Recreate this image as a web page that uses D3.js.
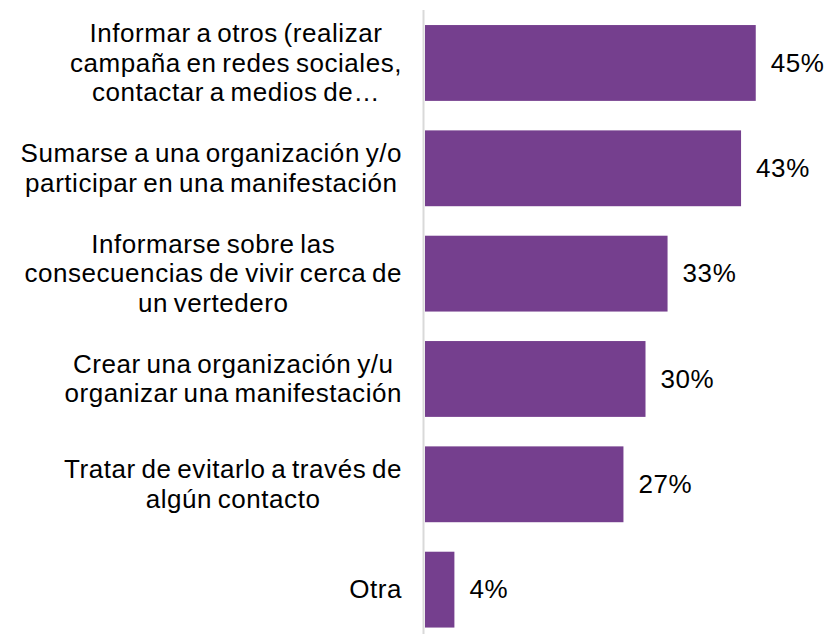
<!DOCTYPE html>
<html>
<head>
<meta charset="utf-8">
<script src="https://cdn.jsdelivr.net/npm/d3@7"></script>
<style>
  html, body { margin: 0; padding: 0; background: #ffffff; }
  svg { display: block; }
</style>
</head>
<body>
<svg id="chart" width="833" height="634"></svg>
<script>
// ---- data ----
const categories = [
  ["Informar a otros (realizar", "campaña en redes sociales,", "contactar a medios de…"],
  ["Sumarse a una organización y/o", "participar en una manifestación"],
  ["Informarse sobre las", "consecuencias de vivir cerca de", "un vertedero"],
  ["Crear una organización y/u", "organizar una manifestación"],
  ["Tratar de evitarlo a través de", "algún contacto"],
  ["Otra"]
];
const values = [45, 43, 33, 30, 27, 4];
const valueLabels = ["45%", "43%", "33%", "30%", "27%", "4%"];

// ---- layout ----
const W = 833, H = 634;
const axisX = 425;
const svg = d3.select("#chart");
const font = "'Liberation Sans', Arial, Helvetica, sans-serif";

const ids = categories.map((_, i) => i);
const y = d3.scaleBand().domain(ids).range([10.3, 642.3]).paddingInner(0.28).paddingOuter(0.14);
const x = d3.scaleLinear().domain([0, 50]).range([axisX, axisX + 367.5]);

// bars
svg.append("g").selectAll("rect").data(values).join("rect")
  .attr("x", x(0))
  .attr("y", (d, i) => y(i))
  .attr("width", d => x(d) - x(0))
  .attr("height", y.bandwidth())
  .attr("fill", "#753f8e");

// vertical axis line
svg.append("line")
  .attr("x1", axisX - 1.5).attr("x2", axisX - 1.5)
  .attr("y1", 10).attr("y2", H)
  .attr("stroke", "#d9d9d9").attr("stroke-width", 2);

// value labels
svg.append("g").selectAll("text").data(values).join("text")
  .attr("x", d => x(d) + 15)
  .attr("y", (d, i) => y(i) + y.bandwidth() / 2)
  .attr("dy", "0.33em")
  .attr("font-family", font)
  .attr("font-size", 26)
  .attr("letter-spacing", "0.6px")
  .attr("fill", "#000")
  .text((d, i) => valueLabels[i]);

// category labels (multi-line, centered block, right-aligned to axis)
const lineH = 29.5;
const rightEdge = 402;
categories.forEach((lines, i) => {
  const cy = y(i) + y.bandwidth() / 2;
  const t = svg.append("text")
    .attr("font-family", font)
    .attr("font-size", 26)
    .attr("letter-spacing", "0.55px")
    .attr("word-spacing", "-2px")
    .attr("fill", "#000")
    .attr("text-anchor", "middle");
  const tspans = lines.map((ln, k) =>
    t.append("tspan")
      .attr("y", cy + (k - (lines.length - 1) / 2) * lineH)
      .attr("dy", "0.33em")
      .text(ln));
  let maxW = 0;
  tspans.forEach(ts => { maxW = Math.max(maxW, ts.node().getComputedTextLength()); });
  const cx = rightEdge - maxW / 2;
  tspans.forEach(ts => ts.attr("x", cx));
});
</script>
</body>
</html>
